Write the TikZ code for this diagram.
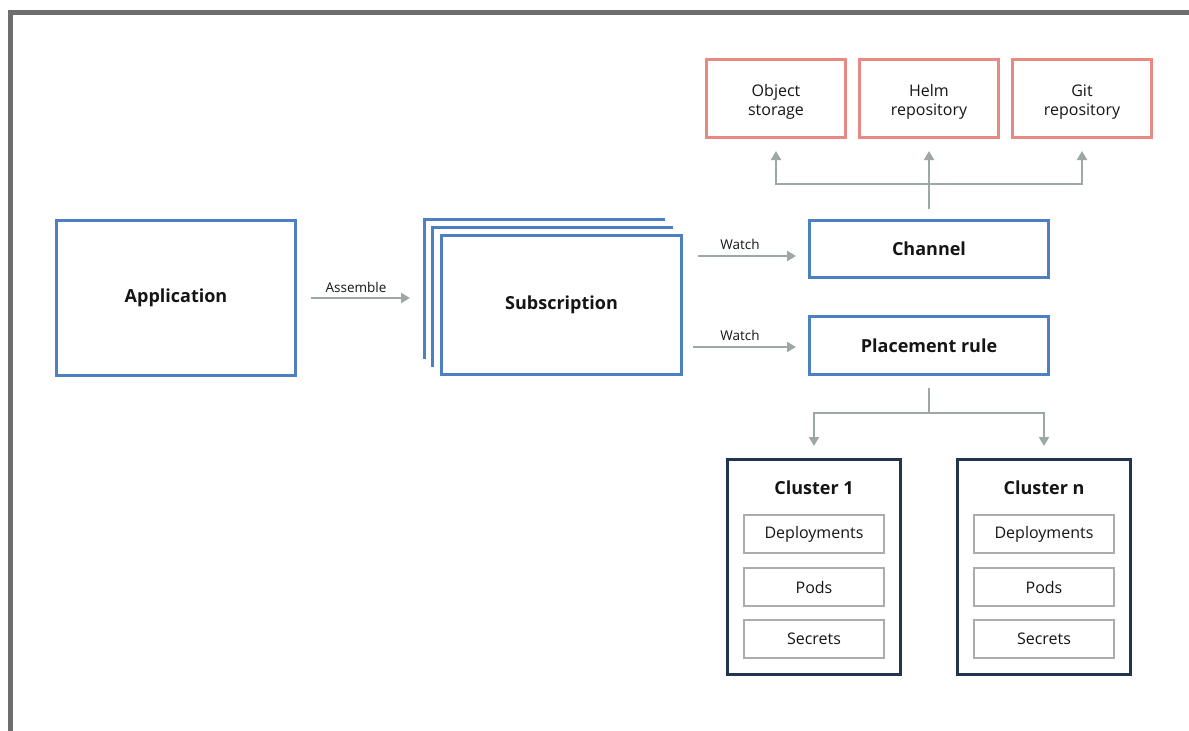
\documentclass[tikz,border=0pt]{standalone}
\usepackage{fontspec}
\setmainfont{Open Sans}
\usetikzlibrary{arrows.meta}
\definecolor{bl}{HTML}{4D7FC3}
\definecolor{sal}{HTML}{E88A82}
\definecolor{navy}{HTML}{22354F}
\definecolor{arrg}{HTML}{9DA7A5}
\definecolor{ing}{HTML}{A9AEAC}
\definecolor{brd}{HTML}{6E6E6E}
\definecolor{txt}{HTML}{151515}
\tikzset{
  bluebox/.style={draw=bl, line width=3pt, rectangle, inner sep=0pt, text=txt, font=\fontsize{18}{21}\selectfont\bfseries},
  repobox/.style={draw=sal, line width=3pt, rectangle, inner sep=0pt, minimum width=139pt, minimum height=78pt},
  repotext/.style={text=txt, align=center, inner sep=0pt, font=\fontsize{16}{19}\selectfont},
  clusterbox/.style={draw=navy, line width=3pt, rectangle, inner sep=0pt, minimum width=173pt, minimum height=215pt},
  itembox/.style={draw=ing, line width=2pt, rectangle, inner sep=0pt, minimum width=140pt, minimum height=38pt, text=txt, font=\fontsize{16}{19}\selectfont},
  ctitle/.style={text=txt, font=\fontsize{18}{21}\selectfont\bfseries, inner sep=0pt},
  lbl/.style={text=txt, font=\fontsize{13.5}{16}\selectfont, inner sep=0pt},
  conn/.style={draw=arrg, line width=2pt},
  arr/.style={conn, -{Triangle[length=9pt,width=10pt]}},
}
\begin{document}
\begin{tikzpicture}[x=1pt,y=-1pt]
\useasboundingbox (0,0) rectangle (1189,731);
\fill[white] (0,0) rectangle (1189,731);
\draw[brd, line width=4.5pt] (10.5,731) -- (10.5,12.5) -- (1189,12.5);

% Application
\node[bluebox, minimum width=239pt, minimum height=155pt] (app) at (176,298) {Application};

% Subscription stack
\draw[bl, line width=3pt] (424.5,359) -- (424.5,219.5) -- (665,219.5);
\draw[bl, line width=3pt] (432.5,367) -- (432.5,227.5) -- (673,227.5);
\node[bluebox, fill=white, minimum width=240pt, minimum height=139pt] (sub) at (561.5,305) {Subscription};

% Channel and placement
\node[bluebox, minimum width=239pt, minimum height=57pt] (ch) at (929,248.5) {Channel};
\node[bluebox, minimum width=239pt, minimum height=58pt] (pl) at (929,345.5) {Placement rule};

% Repositories
\node[repobox] (obj) at (776,98.5) {};
\node[repobox] (helm) at (929,98.5) {};
\node[repobox] (git) at (1082,98.5) {};
\node[repotext] (objt) at (776,102.5) {\strut Object\\\strut storage};
\node[repotext] (helmt) at (929,102.5) {\strut Helm\\\strut repository};
\node[repotext] (gitt) at (1082,102.5) {\strut Git\\\strut repository};

% Clusters
\node[clusterbox] (c1) at (814,567) {};
\node[clusterbox] (cn) at (1044,567) {};
\node[ctitle] (c1t) at (814,488) {Cluster 1};
\node[ctitle] (cnt) at (1044,488) {Cluster n};
\node[itembox] (c1d) at (814,534) {Deployments};
\node[itembox] (c1p) at (814,587) {Pods};
\node[itembox] (c1s) at (814,639) {Secrets};
\node[itembox] (cnd) at (1044,534) {Deployments};
\node[itembox] (cnp) at (1044,587) {Pods};
\node[itembox] (cns) at (1044,639) {Secrets};

% Assemble
\draw[arr, shorten <=14pt, shorten >=30pt] (app.east) -- (app.east -| sub.west);
\node[lbl] (asm) at (356,287) {Assemble};

% Watch arrows
\coordinate (w1) at (698,256);
\coordinate (w2) at (693,347);
\draw[arr, shorten >=12pt] (w1) -- (w1 -| ch.west);
\draw[arr, shorten >=12pt] (w2) -- (w2 -| pl.west);
\node[lbl] (wl1) at (740,244) {Watch};
\node[lbl] (wl2) at (740,335) {Watch};

% Channel to repositories
\coordinate (hub) at (929,184);
\draw[arr, shorten <=10pt, shorten >=12pt] (ch.north) -- (ch.north |- hub) -| (obj.south);
\draw[arr, shorten <=10pt, shorten >=12pt] (ch.north) -- (ch.north |- hub) -| (git.south);
\draw[arr, shorten <=10pt, shorten >=12pt] (ch.north) -- (helm.south);

% Placement to clusters
\coordinate (hub2) at (929,413);
\draw[arr, shorten <=12pt, shorten >=12pt] (pl.south) -- (pl.south |- hub2) -| (c1.north);
\draw[arr, shorten <=12pt, shorten >=12pt] (pl.south) -- (pl.south |- hub2) -| (cn.north);
\end{tikzpicture}
\end{document}
